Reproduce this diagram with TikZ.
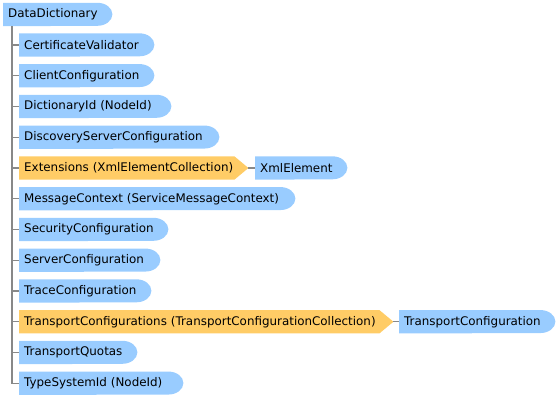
\documentclass[tikz,border=0pt]{standalone}
\usepackage{fontspec}
\newfontfamily\boxfont{DejaVu Sans}
\usetikzlibrary{backgrounds}
\definecolor{bluebox}{RGB}{153,204,255}
\definecolor{orangebox}{RGB}{255,204,102}
\definecolor{linegray}{RGB}{136,136,136}
\tikzset{
  lbl/.style={anchor=west, minimum height=23pt, inner xsep=5pt, inner ysep=0pt,
    text width=#1, align=left, font=\boxfont\fontsize{11.9pt}{13pt}\selectfont, text=black},
  conn/.style={draw=linegray, line width=1.4pt},
}
\newcommand{\bluefill}[1]{\fill[bluebox] (#1.north west) -- ([xshift=-15pt]#1.north east)
  arc[start angle=90, end angle=-90, x radius=15pt, y radius=11.5pt] -- (#1.south west) -- cycle;}
\newcommand{\orangefill}[1]{\fill[orangebox] (#1.north west) -- ([xshift=-14pt]#1.north east)
  -- (#1.east) -- ([xshift=-14pt]#1.south east) -- (#1.south west) -- cycle;}
\begin{document}
\begin{tikzpicture}[x=1pt,y=-1pt]
\useasboundingbox (0,0) rectangle (559,399);
\node[lbl=99pt] (root) at (3,14.5) {\mbox{DataDictionary}};
\node[lbl=125pt] (c1) at (19,45) {\mbox{CertificateValidator}};
\node[lbl=125pt] (c2) at (19,75.75) {\mbox{ClientConfiguration}};
\node[lbl=142pt] (c3) at (19,106.5) {\mbox{DictionaryId (NodeId)}};
\node[lbl=190pt] (c4) at (19,137.25) {\mbox{DiscoveryServerConfiguration}};
\node[lbl=219pt] (c5) at (19,168) {\mbox{Extensions (XmlElementCollection)}};
\node[lbl=82pt] (x5) at (255,168) {\mbox{XmlElement}};
\node[lbl=266pt] (c6) at (19,198.75) {\mbox{MessageContext (ServiceMessageContext)}};
\node[lbl=139pt] (c7) at (19,229.5) {\mbox{SecurityConfiguration}};
\node[lbl=131pt] (c8) at (19,260.25) {\mbox{ServerConfiguration}};
\node[lbl=122pt] (c9) at (19,291) {\mbox{TraceConfiguration}};
\node[lbl=364pt] (c10) at (19,321.75) {\mbox{TransportConfigurations (TransportConfigurationCollection)}};
\node[lbl=146pt] (x10) at (399,321.75) {\mbox{TransportConfiguration}};
\node[lbl=108pt] (c11) at (19,352.5) {\mbox{TransportQuotas}};
\node[lbl=154pt] (c12) at (19,383.25) {\mbox{TypeSystemId (NodeId)}};
\begin{scope}[on background layer]
  \foreach \n in {root,c1,c2,c3,c4,x5,c6,c7,c8,c9,x10,c11,c12} {\bluefill{\n}}
  \foreach \n in {c5,c10} {\orangefill{\n}}
  \coordinate (trunk) at ([xshift=9pt]root.south west);
  \foreach \n in {c1,c2,c3,c4,c5,c6,c7,c8,c9,c10,c11,c12} {\draw[conn] (trunk) |- (\n.west);}
  \draw[conn] (c5.east) -- (x5.west);
  \draw[conn] (c10.east) -- (x10.west);
\end{scope}
\end{tikzpicture}
\end{document}
